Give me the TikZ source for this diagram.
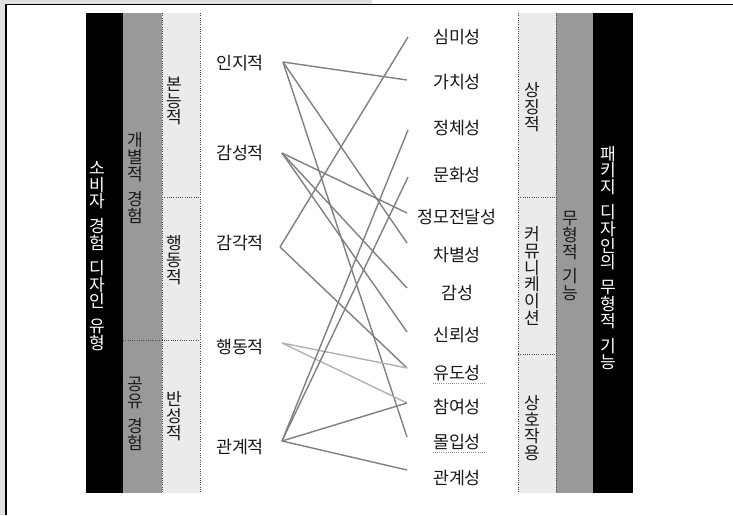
\documentclass[tikz,border=0pt]{standalone}
\usepackage{fontspec}
\setmainfont{Noto Sans CJK KR}
\newcommand{\vsp}{\\[6pt]}
\begin{document}
\begin{tikzpicture}[x=0.75pt,y=-0.75pt,
  lbl/.style={font=\fontsize{13pt}{14pt}\selectfont, inner sep=0pt, text=black!90},
  vlbl/.style={font=\fontsize{12.8pt}{12.6pt}\selectfont, align=center, inner sep=0pt, text=black!90},
  link/.style={draw=black!50, line width=1.05pt},
  linkl/.style={draw=black!30, line width=1.05pt},
  sep/.style={densely dotted, draw=black!70, line width=0.7pt},
  squig/.style={densely dotted, draw=black!45, line width=0.6pt}]
\useasboundingbox (0,0) rectangle (733,515);
% frame
\fill[white] (0,0) rectangle (733,515);
\fill[black!12] (0,0) rectangle (6,515);
\fill[black!12] (0,0) rectangle (372,4);
\draw[line width=1.3pt] (6,515) -- (6,4.5) -- (733,4.5);
% left bands
\fill[black] (86,13) rectangle (123,493);
\fill[black!40] (123,13) rectangle (162,493);
\fill[black!8] (162,13) rectangle (200,493);
\draw[sep] (162,13) -- (162,493);
\draw[sep] (200,13) -- (200,493);
\draw[sep] (162,197) -- (200,197);
\draw[sep] (123,340) -- (200,340);
% right bands
\fill[black!8] (518,13) rectangle (556,493);
\fill[black!40] (556,13) rectangle (593,493);
\fill[black] (593,13) rectangle (633,493);
\draw[sep] (518,13) -- (518,493);
\draw[sep] (556,13) -- (556,493);
\draw[sep] (518,197) -- (556,197);
\draw[sep] (518,354) -- (556,354);
% band labels
\node[vlbl, text=white] (b1) at (97,256) {소\\비\\자\vsp 경\\험\vsp 디\\자\\인\vsp 유\\형};
\node[vlbl] (b2) at (135,178) {개\\별\\적\vsp 경\\험};
\node[vlbl] (b3) at (135,414) {공\\유\vsp 경\\험};
\node[vlbl] (b4) at (174,101) {본\\능\\적};
\node[vlbl] (b5) at (174,260) {행\\동\\적};
\node[vlbl] (b6) at (174,416) {반\\성\\적};
\node[vlbl] (c1) at (532,107) {상\\징\\적};
\node[vlbl] (c2) at (532,276) {커\\뮤\\니\\케\\이\\션};
\node[vlbl] (c3) at (532,428) {상\\호\\작\\용};
\node[vlbl] (c4) at (570,256) {무\\형\\적\vsp 기\\능};
\node[vlbl, text=white] (c5) at (608,258) {패\\키\\지\vsp 디\\자\\인\\의\vsp 무\\형\\적\vsp 기\\능};
% left labels
\node[lbl] (L1) at (240,63) {인지적};
\node[lbl] (L2) at (240,153) {감성적};
\node[lbl] (L3) at (240,243) {감각적};
\node[lbl] (L4) at (240,347) {행동적};
\node[lbl] (L5) at (240,447) {관계적};
% right labels
\node[lbl] (R1) at (457,37) {심미성};
\node[lbl] (R2) at (457,82) {가치성};
\node[lbl] (R3) at (457,128) {정체성};
\node[lbl] (R4) at (457,175) {문화성};
\node[lbl] (R5) at (457,217) {정모전달성};
\node[lbl] (R6) at (457,255) {차별성};
\node[lbl] (R7) at (457,293) {감성};
\node[lbl] (R8) at (457,335) {신뢰성};
\node[lbl] (R9) at (457,373) {유도성};
\node[lbl] (R10) at (457,407) {참여성};
\node[lbl] (R11) at (457,442) {몰입성};
\node[lbl] (R12) at (457,478) {관계성};
\draw[squig] (R9.south west) ++(0,2) -- ++(52,0);
\draw[squig] (R11.south west) ++(0,2) -- ++(52,0);
% connector ends
\coordinate (l1) at (283,62);
\coordinate (l2) at (282,153);
\coordinate (l3) at (280,247);
\coordinate (l4) at (282,343);
\coordinate (l5) at (282,441);
\coordinate (r1) at (408,37);
\coordinate (r2) at (407,80);
\coordinate (r3) at (408,130);
\coordinate (r4) at (408,177);
\coordinate (r5) at (407,213);
\coordinate (r6) at (407,243);
\coordinate (r7) at (407,288);
\coordinate (r8) at (407,332);
\coordinate (r9) at (407,368);
\coordinate (r10) at (407,403);
\coordinate (r11) at (407,437);
\coordinate (r12) at (407,470);
% connectors
\draw[link] (l1) -- (r2);
\draw[link] (l1) -- (r6);
\draw[link] (l1) -- (r11);
\draw[link] (l2) -- (r5);
\draw[link] (l2) -- (r7);
\draw[link] (l2) -- (r8);
\draw[link] (l3) -- (r1);
\draw[link] (l3) -- (r9);
\draw[linkl] (l4) -- (r9);
\draw[linkl] (l4) -- (r10);
\draw[link] (l5) -- (r3);
\draw[link] (l5) -- (r4);
\draw[link] (l5) -- (r10);
\draw[link] (l5) -- (r12);
\end{tikzpicture}
\end{document}
